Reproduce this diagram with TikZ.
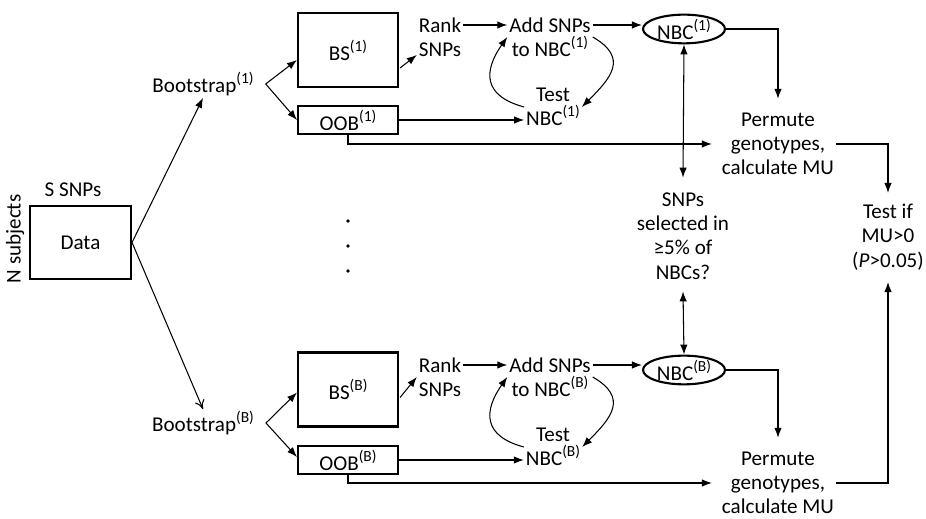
\documentclass[tikz,border=0pt]{standalone}
\usepackage{fontspec}
\setmainfont{Carlito}
\usetikzlibrary{arrows.meta, shapes.geometric, calc, positioning}
\newcommand{\supn}[1]{\raisebox{0.42em}{\fontsize{8.8}{9}\selectfont #1}}
\tikzset{
  conn/.style     = {-{Latex[length=2mm, width=1.5mm]}, line width=0.6pt},
  openconn/.style = {-{To[length=1.8mm, width=2mm]}, line width=0.6pt},
  dconn/.style    = {{Latex[length=2mm, width=1.5mm]}-{Latex[length=2mm, width=1.5mm]}, line width=0.6pt},
  blk/.style      = {draw, line width=1.2pt, minimum width=2cm, inner sep=0pt},
  nbc/.style      = {draw, ellipse, line width=1.2pt, minimum width=1.64cm, minimum height=0.56cm, inner sep=0pt},
  lbl/.style      = {align=center, inner sep=1pt},
  loop/.style     = {conn, looseness=1.5},
}

\begin{document}
\begin{tikzpicture}[x=0.02cm, y=-0.02cm, font=\fontsize{12}{13.8}\selectfont]
\useasboundingbox (0,0) rectangle (926,519);

% ---- data ----------------------------------------------------------------
\node[blk, minimum width=2.02cm, minimum height=1.46cm] (data) at (80.5,242.5) {Data};
\node[lbl] (ssnps) at (73,190) {S SNPs};
\node[lbl, rotate=90] (nsubj) at (15,239) {N subjects};

% ---- bootstrap (1) -------------------------------------------------------
\begin{scope}
  \node[lbl] (boot1) at (203,84) {Bootstrap\supn{(1)}};
  \coordinate (f1) at ($(boot1.east)+(10,0)$);
  \node[blk, minimum height=1.48cm] (bs1) at (348,50) {BS\supn{(1)}};
  \node[blk, minimum height=0.56cm] (oob1) at (348,120) {OOB\supn{(1)}};
  \node[lbl] (rank1) at (440,37) {Rank\\SNPs};
  \node[lbl] (add1) at (550,37) {Add SNPs\\to NBC\supn{(1)}};
  \node[lbl] (test1) at (553,107) {Test\\NBC\supn{(1)}};
  \node[nbc] (nbc1) at (684,29) {NBC\supn{(1)}};
  \node[lbl] (perm1) at (778,144) {Permute\\genotypes,\\calculate MU};
  \coordinate (a1) at ($(add1.east)+(0,-12)$);

  \draw[conn] (f1) -- ($(bs1.west)+(0,10)$);
  \draw[conn] (f1) -- (oob1.west);
  \draw[conn] ($(bs1.east)+(1,18)$) -- ($(rank1.west)+(0,18)$);
  \draw[conn] ($(rank1.east)+(0,-12)$) -- ($(add1.west)+(0,-12)$);
  \draw[conn] (a1) -- (a1 -| nbc1.west);
  \draw[loop] (test1.west) to[out=165, in=235] (add1.west);
  \draw[loop] (add1.east) to[out=-30, in=45] (test1.east);
  \draw[conn] (oob1.east) -- (oob1.east -| test1.west);
  \draw[conn] (nbc1.east) -| ($(perm1.north)+(0,-12)$);
  \draw[conn] (oob1.south) |- ($(perm1.west)+(-8,0)$);
\end{scope}

% ---- bootstrap (B) -------------------------------------------------------
\begin{scope}[shift={(0,340)}]
  \node[lbl] (bootB) at (203,83) {Bootstrap\supn{(B)}};
  \coordinate (fB) at ($(bootB.east)+(10,0)$);
  \node[blk, minimum height=1.48cm] (bsB) at (348,49.5) {BS\supn{(B)}};
  \node[blk, minimum height=0.56cm] (oobB) at (348,120) {OOB\supn{(B)}};
  \node[lbl] (rankB) at (440,37) {Rank\\SNPs};
  \node[lbl] (addB) at (550,37) {Add SNPs\\to NBC\supn{(B)}};
  \node[lbl] (testB) at (553,107) {Test\\NBC\supn{(B)}};
  \node[nbc] (nbcB) at (684,30) {NBC\supn{(B)}};
  \node[lbl] (permB) at (778,143) {Permute\\genotypes,\\calculate MU};
  \coordinate (aB) at ($(addB.east)+(0,-12)$);

  \draw[conn] (fB) -- ($(bsB.west)+(0,3)$);
  \draw[conn] (fB) -- ($(oobB.west)+(0,-3)$);
  \draw[conn] ($(bsB.east)+(1,8)$) -- ($(rankB.west)+(0,0)$);
  \draw[conn] ($(rankB.east)+(0,-12)$) -- ($(addB.west)+(0,-12)$);
  \draw[conn] (aB) -- (aB -| nbcB.west);
  \draw[loop] (testB.west) to[out=165, in=235] (addB.west);
  \draw[loop] (addB.east) to[out=-30, in=45] (testB.east);
  \draw[conn] (oobB.east) -- (oobB.east -| testB.west);
  \draw[conn] (nbcB.east) -| ($(permB.north)+(0,-12)$);
  \draw[conn] (oobB.south) |- ($(permB.west)+(-8,0)$);
\end{scope}

% ---- data to the bootstraps, dots between ------------------------------
\draw[conn] (data.east) -- (boot1.south);
\draw[openconn] (data.east) -- (bootB.north);
\foreach \y in {221,246,271}
  \fill (348,\y) circle (1.1pt);

% ---- selection and test --------------------------------------------------
\node[lbl] (sel) at (683,236) {SNPs\\selected in\\≥5\% of\\NBCs?};
\node[lbl] (testmu) at (888,237) {Test if\\MU>0\\(\textit{P}>0.05)};

\draw[dconn] (nbc1.south) -- ($(sel.north)+(0,-13)$);
\draw[dconn] ($(sel.south)+(0,10)$) -- (nbcB.north);
\draw[conn] (perm1.east) -| ($(testmu.north)+(0,-9)$);
\draw[conn] (permB.east) -| ($(testmu.south)+(0,10)$);

\end{tikzpicture}
\end{document}
